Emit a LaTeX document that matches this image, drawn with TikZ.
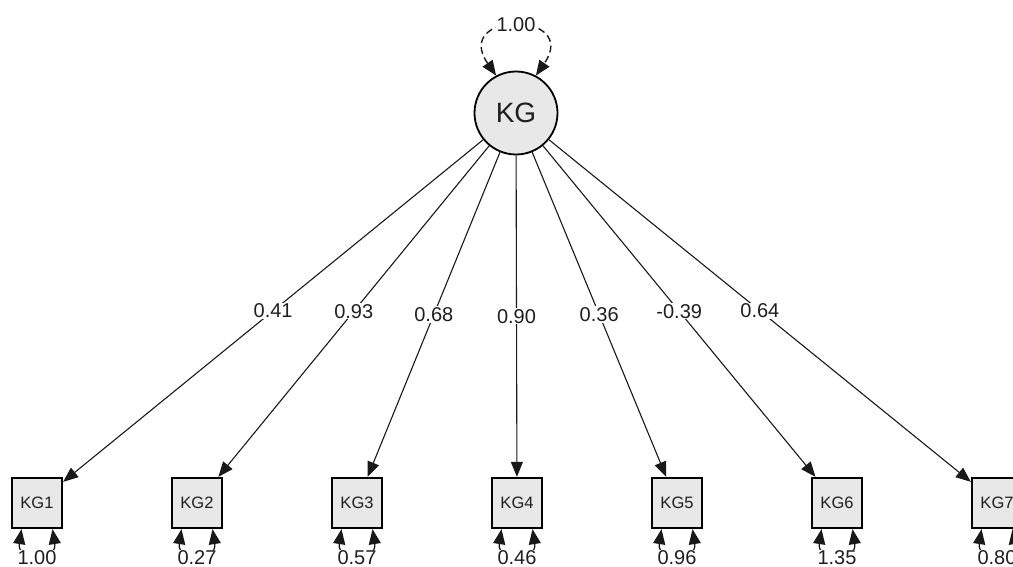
\documentclass[tikz,border=0pt]{standalone}
\usepackage{fontspec}
\setmainfont{Liberation Sans}
\usetikzlibrary{arrows.meta}
\begin{document}
\begin{tikzpicture}[x=1pt,y=-1pt,
  headtip/.tip={Triangle[length=15pt,width=12pt]},
  smalltip/.tip={Triangle[length=15pt,width=12pt]},
  latent/.style={circle,draw=black,line width=1.8pt,fill=black!9,
    minimum size=83pt,inner sep=0pt,text=black!88,font=\fontsize{28}{28}\selectfont},
  manifest/.style={rectangle,draw=black,line width=1.8pt,fill=black!9,
    minimum size=50.5pt,inner sep=0pt,text=black!88,font=\fontsize{16.5}{16.5}\selectfont},
  coef/.style={fill=white,inner sep=1pt,text=black!88,font=\fontsize{20}{20}\selectfont},
  loading/.style={line width=1.1pt,draw=black!90,-headtip},
  variance/.style={line width=1.2pt,draw=black!90,smalltip-smalltip},
  latentvar/.style={line width=1.4pt,draw=black!90,dash pattern=on 7pt off 4pt,smalltip-smalltip}
]
\useasboundingbox (0,0) rectangle (1013,567);

% latent factor
\node[latent] (KG) at (516,113) {KG};

% indicators
\foreach \i/\x in {1/37,2/197,3/357,4/517,5/677,6/837,7/997}
  \node[manifest] (KG\i) at (\x,503) {KG\i};

% factor loadings
\draw[loading] (KG) -- node[coef] {0.41} (KG1);
\draw[loading] (KG) -- node[coef] {0.93} (KG2);
\draw[loading] (KG) -- node[coef] {0.68} (KG3);
\draw[loading] (KG) -- node[coef] {0.90} (KG4);
\draw[loading] (KG) -- node[coef] {0.36} (KG5);
\draw[loading] (KG) -- node[coef] {-0.39} (KG6);
\draw[loading] (KG) -- node[coef] {0.64} (KG7);

% factor variance
\draw[latentvar] (KG.118) .. controls +(-45,-65) and +(45,-65) .. (KG.62);
\node[coef,anchor=base] (vKG) at (516,32) {1.00};

% residual variances
\foreach \i/\x/\v in {1/37/1.00,2/197/0.27,3/357/0.57,4/517/0.46,5/677/0.96,6/837/1.35,7/997/0.80}{
  \draw[variance] ([xshift=-15.5pt]KG\i.south) .. controls +(-5,32) and +(5,32) .. ([xshift=15.5pt]KG\i.south);
  \node[coef,anchor=base,inner sep=0.5pt] (v\i) at (\x,564.5) {\v};
}
\end{tikzpicture}
\end{document}
